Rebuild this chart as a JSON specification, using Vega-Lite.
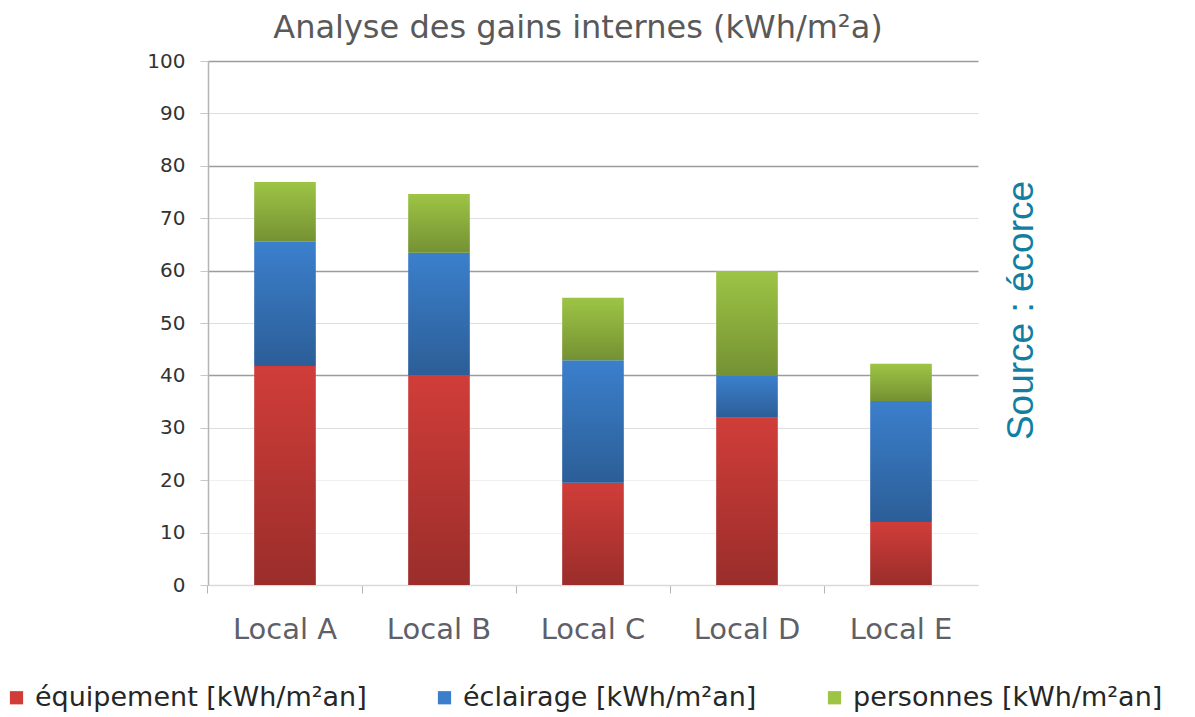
{
  "$schema": "https://vega.github.io/schema/vega-lite/v6.json",
  "width": 770,
  "height": 524,
  "autosize": {"type": "none"},
  "padding": {"left": 208, "top": 61, "right": 217, "bottom": 132},
  "background": "white",
  "title": {
    "text": "Analyse des gains internes (kWh/m²a)",
    "font": "DejaVu Sans",
    "fontSize": 32,
    "fontWeight": "normal",
    "color": "#595959",
    "anchor": "middle",
    "dx": -15,
    "offset": 6
  },
  "data": {
    "values": [
      {"local": "Local A", "type": "équipement [kWh/m²an]", "order": 1, "value": 41.8},
      {"local": "Local A", "type": "éclairage [kWh/m²an]", "order": 2, "value": 23.7},
      {"local": "Local A", "type": "personnes [kWh/m²an]", "order": 3, "value": 11.4},
      {"local": "Local B", "type": "équipement [kWh/m²an]", "order": 1, "value": 40.1},
      {"local": "Local B", "type": "éclairage [kWh/m²an]", "order": 2, "value": 23.3},
      {"local": "Local B", "type": "personnes [kWh/m²an]", "order": 3, "value": 11.2},
      {"local": "Local C", "type": "équipement [kWh/m²an]", "order": 1, "value": 19.5},
      {"local": "Local C", "type": "éclairage [kWh/m²an]", "order": 2, "value": 23.4},
      {"local": "Local C", "type": "personnes [kWh/m²an]", "order": 3, "value": 11.9},
      {"local": "Local D", "type": "équipement [kWh/m²an]", "order": 1, "value": 31.9},
      {"local": "Local D", "type": "éclairage [kWh/m²an]", "order": 2, "value": 8.0},
      {"local": "Local D", "type": "personnes [kWh/m²an]", "order": 3, "value": 20.0},
      {"local": "Local E", "type": "équipement [kWh/m²an]", "order": 1, "value": 12.0},
      {"local": "Local E", "type": "éclairage [kWh/m²an]", "order": 2, "value": 23.1},
      {"local": "Local E", "type": "personnes [kWh/m²an]", "order": 3, "value": 7.1}
    ]
  },
  "encoding": {
    "x": {
      "field": "local",
      "type": "nominal",
      "sort": null,
      "scale": {"paddingInner": 0.6, "paddingOuter": 0.3},
      "axis": {
        "title": null,
        "labelFont": "DejaVu Sans",
        "labelFontSize": 29,
        "labelColor": "#5f5f69",
        "labelPadding": 22,
        "labelAngle": 0,
        "bandPosition": -0.75,
        "tickSize": 8,
        "tickColor": "#b5b5b5",
        "domainColor": "#d9d9d9",
        "domainWidth": 1.5
      }
    }
  },
  "layer": [
    {
      "mark": {"type": "bar"},
      "encoding": {
        "y": {
          "field": "value",
          "type": "quantitative",
          "stack": "zero",
          "scale": {"domain": [0, 100]},
          "axis": {
            "title": null,
            "values": [0, 10, 20, 30, 40, 50, 60, 70, 80, 90, 100],
            "labelFont": "DejaVu Sans",
            "labelFontSize": 20,
            "labelColor": "#333333",
            "labelPadding": 15,
            "tickSize": 8,
            "tickColor": "#c8c8c8",
            "domainColor": "#b5b5b5",
            "domainWidth": 1.5,
            "gridColor": {
              "condition": [
                {"test": "datum.value >= 40 && datum.value % 20 === 0", "value": "#9c9c9c"},
                {"test": "datum.value >= 30", "value": "#dedede"}
              ],
              "value": "#f0f0f0"
            },
            "gridWidth": {
              "condition": {"test": "datum.value >= 40 && datum.value % 20 === 0", "value": 1.5},
              "value": 1
            }
          }
        },
        "color": {
          "field": "type",
          "type": "nominal",
          "scale": {
            "domain": ["équipement [kWh/m²an]", "éclairage [kWh/m²an]", "personnes [kWh/m²an]"],
            "range": ["#d03d39", "#3b7fcc", "#9dc445"]
          },
          "legend": {
            "orient": "none",
            "legendX": -205,
            "legendY": 623,
            "direction": "horizontal",
            "title": null,
            "symbolType": "square",
            "symbolSize": 175,
            "symbolStrokeWidth": 0,
            "symbolOpacity": 1,
            "labelFont": "DejaVu Sans",
            "labelFontSize": 27,
            "labelColor": "#262626",
            "labelLimit": 600,
            "labelOffset": 5,
            "columnPadding": 64
          }
        },
        "order": {"field": "order", "type": "quantitative"}
      }
    },
    {
      "mark": {
        "type": "bar",
        "fill": {
          "gradient": "linear",
          "x1": 0, "y1": 0, "x2": 0, "y2": 1,
          "stops": [
            {"offset": 0, "color": "rgba(0,0,0,0)"},
            {"offset": 1, "color": "rgba(0,0,0,0.26)"}
          ]
        }
      },
      "encoding": {
        "y": {
          "field": "value",
          "type": "quantitative",
          "stack": "zero",
          "scale": {"domain": [0, 100]},
          "axis": {
            "orient": "right",
            "title": "Source : écorce",
            "titleFont": "Liberation Sans",
            "titleFontSize": 37,
            "titleFontWeight": "normal",
            "titleColor": "#127fa2",
            "titleAngle": 270,
            "titlePadding": 62,
            "titleY": 249,
            "labels": false,
            "ticks": false,
            "domain": false,
            "grid": false
          }
        },
        "detail": {"field": "type"},
        "order": {"field": "order", "type": "quantitative"}
      }
    }
  ],
  "resolve": {"scale": {"y": "independent"}},
  "config": {"view": {"stroke": null}}
}
